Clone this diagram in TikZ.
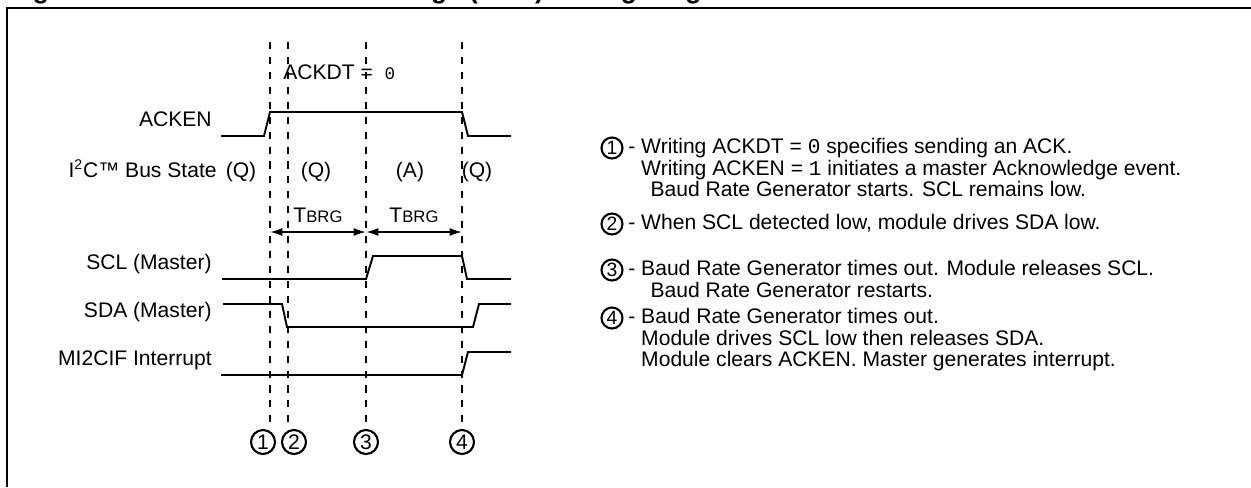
\documentclass[tikz,border=0pt]{standalone}
\usepackage{fontspec}
\setmainfont{Liberation Sans}
\newfontfamily\monofont{Liberation Mono}
\usetikzlibrary{arrows.meta, positioning, calc}
\tikzset{
  lbl/.style={font=\fontsize{12}{14}\selectfont, anchor=mid east, inner sep=0pt},
  bus/.style={font=\fontsize{12}{14}\selectfont, anchor=mid, inner sep=0pt},
  note/.style={font=\fontsize{12}{12.2}\selectfont, anchor=base west, inner sep=0pt},
  wave/.style={line width=1.1pt, line join=miter},
  guide/.style={line width=1.2pt, dash pattern=on 4pt off 4.5pt},
  evnum/.style={circle, draw, line width=1.2pt, inner sep=0pt, minimum size=0.48cm,
    font=\fontsize{12}{14}\selectfont},
  evsmall/.style={evnum, minimum size=0.42cm, font=\fontsize{11}{13}\selectfont},
  tarrow/.style={{Latex[length=7pt,width=4.5pt]}-{Latex[length=7pt,width=4.5pt]}, line width=0.9pt}
}
\newcommand{\tbrg}{T{\fontsize{9.5}{11}\selectfont BRG}}
\newcommand{\ind}{\phantom{- }}
\newcommand{\notelines}[1]{\begin{tabular}[t]{@{}l@{}}#1\end{tabular}}

\begin{document}
\begin{tikzpicture}[x=0.02cm, y=-0.02cm]
  \useasboundingbox (0,0) rectangle (1251,487);
  % cut title and frame
  \begin{scope}
    \clip (0,0) rectangle (1251,487);
    \node[anchor=base west, inner sep=0pt, font=\bfseries\fontsize{15}{18}\selectfont] (title) at (9,-2)
      {Figure 19-20:\quad Master Acknowledge (ACK) Timing Diagram};
  \end{scope}
  \draw[line width=1.6pt] (6,8) -- (1251,8);
  \draw[line width=1.1pt] (7,8) -- (7,487);

  % signal names
  \node[lbl] (acken) at (212,122) {ACKEN};
  \node[lbl] (state) at (217,173) {I\textsuperscript{2}C\texttrademark{} Bus State};
  \node[lbl] (scl) at (212,265) {SCL (Master)};
  \node[lbl] (sda) at (212,313) {SDA (Master)};
  \node[lbl] (irq) at (212,361) {MI2CIF Interrupt};

  % event markers
  \node[evnum] (e1) at (263,442) {1};
  \node[evnum] (e2) at (294,442) {2};
  \node[evnum] (e3) at (366,442) {3};
  \node[evnum] (e4) at (462,442) {4};
  \coordinate (g1) at (270,42);
  \coordinate (g2) at (288,42);
  \coordinate (g3) at (366,42);
  \coordinate (g4) at (462,42);
  \draw[guide] (g1) -- (270,423);
  \draw[guide] (g2) -- (288,423);
  \draw[guide] (g3) -- (e3.north);
  \draw[guide] (g4) -- (e4.north);

  \node[lbl, anchor=mid west] (ackdt) at (283,75) {ACKDT =~~{\monofont\fontsize{10}{12}\selectfont 0}};

  % waveforms
  \draw[wave] (221,136) -- (264,136) -- (270,112) -- (462,112) -- (468,136) -- (511,136);
  \draw[wave] (222,279) -- (366,279) -- (373,256) -- (462,256) -- (467,279) -- (511,279);
  \draw[wave] (223,304) -- (282,304) -- (287,327) -- (473,327) -- (479,304) -- (511,304);
  \draw[wave] (221,375) -- (462,375) -- (468,352) -- (511,352);

  % bus states
  \node[bus] (q1) at (241,173) {(Q)};
  \node[bus] (q2) at (316,173) {(Q)};
  \node[bus] (a1) at (410,173) {(A)};
  \node[bus] (q3) at (477,173) {(Q)};

  % baud rate periods
  \coordinate (b1) at (270,232);
  \coordinate (b2) at (366,232);
  \coordinate (b3) at (462,232);
  \draw[tarrow] (b1) -- node[bus, above=5pt] (t1) {\tbrg} (b2);
  \draw[tarrow] (b2) -- node[bus, above=5pt] (t2) {\tbrg} (b3);

  % notes
  \node[evsmall] (n1) at (612,148) {1};
  \node[note] (n1t) at (628,153.5) {\notelines{- Writing ACKDT = {\monofont 0} specifies sending an ACK.\\
    \ind Writing ACKEN = {\monofont 1} initiates a master Acknowledge event.\\
    \ind\, Baud Rate Generator starts. SCL remains low.}};
  \node[evsmall] (n2) at (612,224) {2};
  \node[note] (n2t) at (628,229.5) {- When SCL detected low, module drives SDA low.};
  \node[evsmall] (n3) at (612,270) {3};
  \node[note] (n3t) at (628,275.5) {\notelines{- Baud Rate Generator times out. Module releases SCL.\\
    \ind\, Baud Rate Generator restarts.}};
  \node[evsmall] (n4) at (612,318) {4};
  \node[note] (n4t) at (628,323.5) {\notelines{- Baud Rate Generator times out.\\
    \ind Module drives SCL low then releases SDA.\\
    \ind Module clears ACKEN. Master generates interrupt.}};
\end{tikzpicture}
\end{document}
